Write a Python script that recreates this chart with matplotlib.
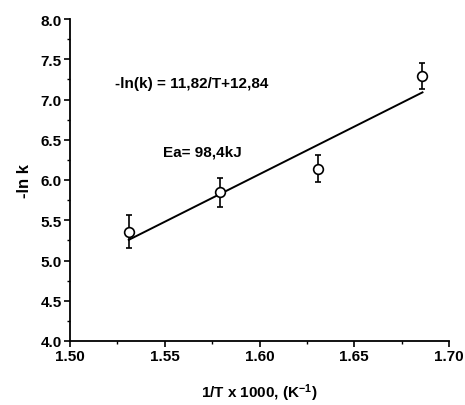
import numpy as np
import matplotlib.pyplot as plt
from matplotlib.ticker import MultipleLocator

plt.rcParams['font.family'] = ['Liberation Sans', 'DejaVu Sans']
plt.rcParams['font.weight'] = 'bold'
plt.rcParams['axes.labelweight'] = 'bold'
plt.rcParams['mathtext.default'] = 'regular'

# data
inv_T = [1.531, 1.579, 1.631, 1.686]
neg_ln_k = [5.36, 5.85, 6.14, 7.29]
err = [0.21, 0.18, 0.17, 0.16]

fit_slope = 11.82
fit_intercept = -12.84

fig = plt.figure(figsize=(4.65, 4.06), dpi=100)
ax = fig.add_axes([70 / 465, 64 / 406, 379 / 465, 322 / 406])

x_fit = np.array([min(inv_T), max(inv_T)])
ax.plot(x_fit, fit_slope * x_fit + fit_intercept, color='black', lw=1.4)
ax.errorbar(inv_T, neg_ln_k, yerr=err, fmt='o', mfc='white', mec='black',
            ms=7, mew=1.2, ecolor='black', elinewidth=1.2, capsize=2, capthick=1.2)

ax.set_xlim(1.50, 1.70)
ax.set_ylim(4.0, 8.0)
ax.xaxis.set_major_locator(MultipleLocator(0.05))
ax.xaxis.set_minor_locator(MultipleLocator(0.025))
ax.yaxis.set_major_locator(MultipleLocator(0.5))
ax.yaxis.set_minor_locator(MultipleLocator(0.25))
ax.xaxis.set_major_formatter(plt.FormatStrFormatter('%.2f'))
ax.yaxis.set_major_formatter(plt.FormatStrFormatter('%.1f'))

for s in ['top', 'right']:
    ax.spines[s].set_visible(False)
for s in ['left', 'bottom']:
    ax.spines[s].set_linewidth(1.3)

ax.tick_params(which='major', direction='out', length=4, width=1.2, labelsize=11, pad=2)
ax.tick_params(which='minor', direction='out', length=2.5, width=1.0)

ax.set_xlabel(r'1/T x 1000, (K$^{-1}$)', fontsize=11, labelpad=13)
ax.set_ylabel('-ln k', fontsize=12, labelpad=6)

ax.text(1.5237, 7.205, '-ln(k) = 11,82/T+12,84', fontsize=11, va='center')
ax.text(1.549, 6.36, 'Ea= 98,4kJ', fontsize=11, va='center')

fig.savefig('out.png', dpi=100)
